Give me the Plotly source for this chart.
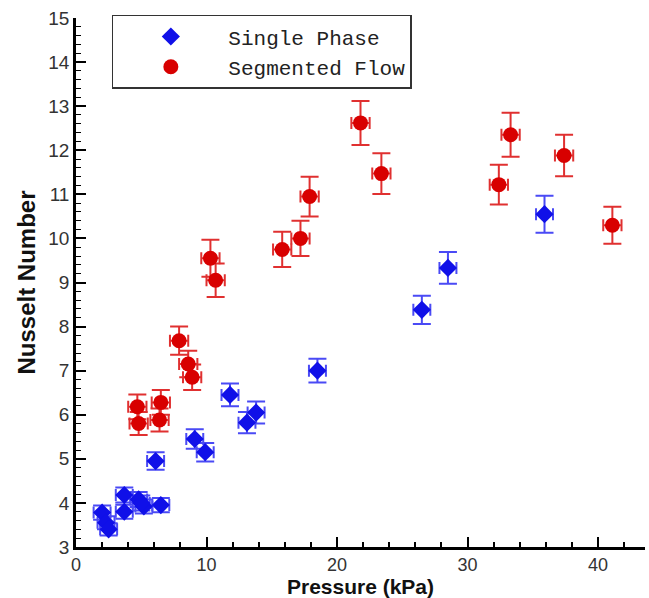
import plotly.graph_objects as go

# Single phase data
sp_pressure = [2.0, 2.3, 2.5, 3.7, 3.7, 4.8, 5.2, 5.0, 6.5, 6.1, 9.1, 9.9, 11.8, 13.1, 13.8, 18.5, 26.5, 28.5, 35.9]
sp_nusselt = [3.78, 3.55, 3.40, 4.18, 3.80, 4.08, 3.92, 4.00, 3.95, 4.95, 5.45, 5.15, 6.45, 5.82, 6.05, 7.00, 8.38, 9.33, 10.55]
sp_err_y = [0.16, 0.15, 0.14, 0.17, 0.16, 0.17, 0.16, 0.17, 0.16, 0.20, 0.22, 0.21, 0.26, 0.24, 0.25, 0.27, 0.32, 0.36, 0.42]
sp_err_x = [0.65] * 19

# Segmented flow data
sf_pressure = [4.7, 4.8, 6.5, 6.4, 7.9, 8.6, 8.9, 10.3, 10.7, 15.8, 17.2, 17.9, 21.8, 23.4, 32.4, 33.3, 37.4, 41.1]
sf_nusselt = [6.18, 5.80, 6.28, 5.88, 7.68, 7.15, 6.85, 9.55, 9.05, 9.75, 10.00, 10.95, 12.62, 11.47, 11.22, 12.35, 11.88, 10.30]
sf_err_y = [0.28, 0.26, 0.28, 0.26, 0.32, 0.30, 0.29, 0.42, 0.38, 0.40, 0.40, 0.45, 0.50, 0.46, 0.45, 0.50, 0.47, 0.42]
sf_err_x = [0.7] * 18

x_ticks = [0, 10, 20, 30, 40]
y_ticks = list(range(3, 16))

fig = go.Figure()

fig.add_trace(go.Scatter(
    x=sp_pressure, y=sp_nusselt, mode="markers", name="Single Phase",
    marker=dict(symbol="diamond", size=14, color="#1010e8"),
    error_y=dict(type="data", array=sp_err_y, color="#4a4af5", thickness=2, width=9),
    error_x=dict(type="data", array=sp_err_x, color="#4a4af5", thickness=2, width=6),
))
fig.add_trace(go.Scatter(
    x=sf_pressure, y=sf_nusselt, mode="markers", name="Segmented Flow",
    marker=dict(symbol="circle", size=15, color="#d80000"),
    error_y=dict(type="data", array=sf_err_y, color="#e03030", thickness=2, width=9),
    error_x=dict(type="data", array=sf_err_x, color="#e03030", thickness=2, width=6),
))

fig.update_layout(
    width=649, height=598,
    margin=dict(l=76, r=4, t=18, b=51),
    paper_bgcolor="white", plot_bgcolor="white",
    font=dict(family="Liberation Sans, Arial, sans-serif", color="#222"),
    legend=dict(
        x=0.063, y=1.006, xanchor="left", yanchor="top",
        bordercolor="#333", borderwidth=1.5, bgcolor="white",
        font=dict(family="Liberation Mono, Courier New, monospace", size=21, color="#222"),
        itemwidth=105, tracegroupgap=0,
    ),
    showlegend=True,
)

fig.update_xaxes(
    range=[0, 43.6], tickvals=x_ticks, ticktext=[str(v) for v in x_ticks],
    automargin=False,
    showgrid=False, zeroline=False, showline=True, linecolor="black", linewidth=2.5,
    ticks="inside", ticklen=10, tickwidth=2, tickcolor="black",
    minor=dict(dtick=2, ticks="inside", ticklen=5, tickwidth=1.5, tickcolor="black"),
    tickfont=dict(size=18, color="#333"),
    title=dict(text="<b>Pressure (kPa)</b>", font=dict(size=21, color="#111"), standoff=4),
)
fig.update_yaxes(
    range=[3, 15], tickvals=y_ticks, ticktext=[str(v) for v in y_ticks],
    automargin=False,
    showgrid=False, zeroline=False, showline=True, linecolor="black", linewidth=2.5,
    ticks="inside", ticklen=10, tickwidth=2, tickcolor="black",
    minor=dict(dtick=0.2, ticks="inside", ticklen=5, tickwidth=1.2, tickcolor="black"),
    tickfont=dict(size=19, color="#333"),
    title=dict(text="<b>Nusselt Number</b>", font=dict(size=24, color="#111"), standoff=6),
)

fig.write_html("out.html")
